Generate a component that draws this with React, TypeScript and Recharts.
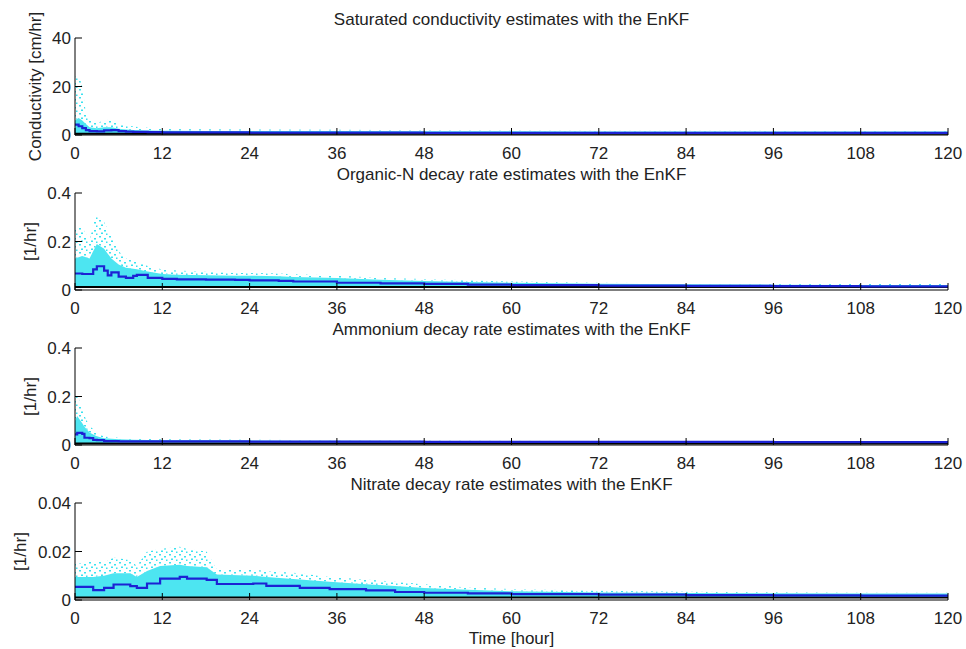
import { ComposedChart, Area, Line, XAxis, YAxis, ReferenceLine } from 'recharts'

const hourTicks = [0, 12, 24, 36, 48, 60, 72, 84, 96, 108, 120]

// saturated conductivity [cm/hr]
const condHours = [0, 0.5, 1, 1.5, 2, 3, 4, 5, 6, 7, 8, 10, 12, 18, 24, 36, 48, 60, 72, 84, 96, 108, 120]
const condMean = [4.3, 3.6, 2.8, 2.0, 1.6, 1.5, 1.9, 2.0, 1.6, 1.4, 1.3, 1.2, 1.1, 1.1, 1.0, 1.0, 0.9, 0.9, 0.9, 0.9, 0.9, 0.9, 0.9]
const condLow = [0.3, 0.3, 0.3, 0.3, 0.3, 0.3, 0.3, 0.3, 0.3, 0.3, 0.3, 0.3, 0.3, 0.3, 0.3, 0.3, 0.3, 0.3, 0.3, 0.3, 0.3, 0.3, 0.3]
const condDense = [6, 7, 6, 4.5, 3.2, 2.8, 3.2, 3.2, 2.6, 2.3, 2.1, 1.9, 1.8, 1.7, 1.6, 1.6, 1.5, 1.5, 1.4, 1.4, 1.4, 1.4, 1.4]
const condTop = [24, 25, 20, 9, 6, 5, 6, 6.5, 4.5, 4, 3.5, 3, 2.5, 2.4, 2.3, 2.2, 2, 1.9, 1.8, 1.8, 1.7, 1.7, 1.7]
const condTrue = 0.5

// organic-N decay rate [1/hr]
const orgHours = [0, 1, 2, 2.5, 3, 4, 4.5, 5, 6, 7, 8, 8.5, 10, 12, 14, 18, 22, 24, 28, 30, 36, 42, 48, 54, 60, 72, 84, 96, 108, 120]
const orgMean = [0.068, 0.066, 0.066, 0.085, 0.098, 0.08, 0.06, 0.073, 0.055, 0.05, 0.058, 0.062, 0.05, 0.046, 0.044, 0.043, 0.042, 0.04, 0.038, 0.035, 0.03, 0.027, 0.025, 0.022, 0.02, 0.018, 0.017, 0.016, 0.015, 0.015]
const orgLow = [0.008, 0.008, 0.008, 0.008, 0.008, 0.008, 0.008, 0.008, 0.008, 0.008, 0.008, 0.008, 0.01, 0.015, 0.015, 0.015, 0.015, 0.015, 0.015, 0.015, 0.015, 0.012, 0.012, 0.012, 0.012, 0.012, 0.012, 0.012, 0.012, 0.012]
const orgDense = [0.13, 0.14, 0.13, 0.16, 0.19, 0.17, 0.15, 0.13, 0.105, 0.092, 0.088, 0.086, 0.076, 0.066, 0.063, 0.061, 0.059, 0.059, 0.057, 0.054, 0.049, 0.042, 0.037, 0.033, 0.03, 0.026, 0.024, 0.022, 0.021, 0.021]
const orgTop = [0.25, 0.26, 0.2, 0.27, 0.31, 0.28, 0.25, 0.22, 0.16, 0.13, 0.12, 0.12, 0.1, 0.085, 0.08, 0.075, 0.07, 0.07, 0.068, 0.065, 0.06, 0.05, 0.045, 0.04, 0.035, 0.03, 0.028, 0.026, 0.025, 0.025]
const orgTrue = 0.012

// ammonium decay rate [1/hr]
const ammHours = [0, 0.3, 1, 1.3, 2, 2.5, 3, 4, 6, 8, 10, 12, 18, 24, 30, 36, 48, 60, 72, 84, 96, 108, 120]
const ammMean = [0.044, 0.05, 0.046, 0.03, 0.028, 0.021, 0.02, 0.016, 0.015, 0.015, 0.015, 0.015, 0.015, 0.014, 0.014, 0.014, 0.013, 0.013, 0.013, 0.013, 0.012, 0.012, 0.012]
const ammLow = [0.005, 0.005, 0.005, 0.005, 0.005, 0.005, 0.006, 0.007, 0.009, 0.009, 0.009, 0.009, 0.009, 0.009, 0.009, 0.009, 0.009, 0.009, 0.009, 0.009, 0.009, 0.009, 0.009]
const ammDense = [0.1, 0.12, 0.09, 0.075, 0.052, 0.043, 0.036, 0.028, 0.024, 0.022, 0.021, 0.02, 0.02, 0.019, 0.018, 0.018, 0.017, 0.016, 0.015, 0.015, 0.015, 0.015, 0.015]
const ammTop = [0.2, 0.21, 0.15, 0.12, 0.08, 0.065, 0.05, 0.035, 0.03, 0.027, 0.025, 0.024, 0.023, 0.022, 0.021, 0.02, 0.019, 0.018, 0.017, 0.016, 0.016, 0.016, 0.016]
const ammTrue = 0.006

// nitrate decay rate [1/hr]
const nitHours = [0, 2.5, 4, 5.3, 7.6, 8.5, 9.9, 11.7, 14.4, 15.4, 18.1, 19.5, 24.5, 26.3, 30.9, 35, 40, 44, 48, 54, 60, 72, 84, 96, 108, 120]
const nitMean = [0.0054, 0.0041, 0.005, 0.0064, 0.0057, 0.005, 0.0068, 0.0088, 0.0095, 0.0088, 0.0083, 0.0066, 0.0068, 0.0058, 0.005, 0.0045, 0.004, 0.0033, 0.003, 0.0027, 0.0024, 0.0022, 0.002, 0.0019, 0.0018, 0.0018]
const nitLow = [0.0012, 0.0012, 0.0012, 0.0012, 0.0012, 0.0012, 0.0012, 0.0012, 0.0012, 0.0012, 0.0012, 0.0012, 0.0012, 0.0012, 0.0012, 0.0012, 0.0012, 0.0012, 0.0012, 0.0012, 0.0012, 0.0012, 0.0012, 0.0012, 0.0012, 0.0012]
const nitDense = [0.0095, 0.0095, 0.01, 0.011, 0.011, 0.0095, 0.012, 0.014, 0.0145, 0.014, 0.0135, 0.0105, 0.01, 0.0095, 0.0085, 0.0075, 0.0065, 0.0058, 0.005, 0.0042, 0.0036, 0.0031, 0.0029, 0.0028, 0.0027, 0.0027]
const nitTop = [0.015, 0.016, 0.0155, 0.0175, 0.0165, 0.014, 0.02, 0.021, 0.022, 0.021, 0.02, 0.0125, 0.0125, 0.012, 0.011, 0.0095, 0.0085, 0.0075, 0.0065, 0.0052, 0.0045, 0.0038, 0.0034, 0.0032, 0.003, 0.003]
const nitTrue = 0.001

const font = '"Liberation Sans", Arial, sans-serif'
const textColor = '#222'
const cyan = '#3ae2f0'
const blue = '#1c22d4'

function buildRows(hours: number[], mean: number[], lo: number[], hi: number[], top: number[]) {
  return hours.map((t, i) => ({ t, mean: mean[i], lo: lo[i], hi: hi[i], top: top[i] }))
}

interface PanelProps {
  id: string
  title: string
  yLabel: string
  yLabelX: number
  yTicks: number[]
  rows: ReturnType<typeof buildRows>
  truth: number
  height: number
  bottomPad: number
  xLabel?: string
}

function Panel({ id, title, yLabel, yLabelX, yTicks, rows, truth, height, bottomPad, xLabel }: PanelProps) {
  const yMax = yTicks[yTicks.length - 1]
  const tickStyle = { fontSize: 17, fill: textColor, fontFamily: font }
  return (
    <div style={{ position: 'relative', width: 958, height }}>
      <div
        style={{
          position: 'absolute', left: 67, top: 3, width: 873, textAlign: 'center',
          fontFamily: font, fontSize: 17, lineHeight: '18px', color: textColor,
        }}
      >
        {title}
      </div>
      <ComposedChart width={958} height={height} data={rows} margin={{ top: 30, right: 18, bottom: bottomPad, left: 0 }}>
        <defs>
          <pattern id={`dots-${id}`} width="10" height="8" patternUnits="userSpaceOnUse">
            <rect x="1" y="1" width="2" height="1.5" fill={cyan} />
            <rect x="6" y="3" width="2" height="1.5" fill={cyan} />
            <rect x="3" y="5.5" width="2" height="1.5" fill={cyan} />
            <rect x="8" y="6.5" width="1.5" height="1.5" fill={cyan} />
          </pattern>
        </defs>
        <XAxis
          xAxisId="b" dataKey="t" type="number" domain={[0, 120]} ticks={hourTicks} interval={0}
          allowDataOverflow height={28} stroke="#000" tickSize={-7} tickMargin={19} tick={tickStyle}
        />
        <XAxis
          xAxisId="t" dataKey="t" type="number" orientation="top" domain={[0, 120]} ticks={hourTicks}
          interval={0} allowDataOverflow height={0} stroke="#000" tickSize={-7} tickFormatter={() => ''}
        />
        <YAxis
          yAxisId="l" type="number" domain={[0, yMax]} ticks={yTicks} interval={0} allowDataOverflow
          width={67} stroke="#000" tickSize={-7} tickMargin={11} tick={tickStyle}
          label={{
            value: yLabel, angle: -90, position: 'insideLeft', offset: yLabelX,
            style: { textAnchor: 'middle', fontSize: 17, fill: textColor, fontFamily: font },
          }}
        />
        <YAxis
          yAxisId="r" type="number" orientation="right" domain={[0, yMax]} ticks={yTicks} interval={0}
          allowDataOverflow width={0} stroke="#000" tickSize={-7} tickFormatter={() => ''}
        />
        <Area
          xAxisId="b" yAxisId="l" dataKey={(d: any) => [d.hi, d.top]} type="linear" stroke="none"
          fill={`url(#dots-${id})`} fillOpacity={1} isAnimationActive={false}
        />
        <Area
          xAxisId="b" yAxisId="l" dataKey={(d: any) => [d.lo, d.hi]} type="linear" stroke="none"
          fill={cyan} fillOpacity={0.9} isAnimationActive={false}
        />
        <ReferenceLine xAxisId="b" yAxisId="l" y={truth} stroke="#000" strokeWidth={2} />
        <Line
          xAxisId="b" yAxisId="l" dataKey="mean" type="stepAfter" stroke={blue} strokeWidth={2.2}
          dot={false} isAnimationActive={false}
        />
      </ComposedChart>
      {xLabel && (
        <div
          style={{
            position: 'absolute', left: 67, top: 157, width: 873, textAlign: 'center',
            fontFamily: font, fontSize: 17, lineHeight: '17px', color: textColor,
          }}
        >
          {xLabel}
        </div>
      )}
    </div>
  )
}

export default function App() {
  return (
    <div style={{ position: 'absolute', left: 0, top: 0, width: 966, height: 649, overflow: 'hidden', background: '#fff' }}>
      <div style={{ position: 'absolute', left: 8, top: 8, width: 958 }}>
        <Panel
          id="cond" title="Saturated conductivity estimates with the EnKF" yLabel="Conductivity [cm/hr]" yLabelX={27}
          yTicks={[0, 20, 40]} rows={buildRows(condHours, condMean, condLow, condDense, condTop)} truth={condTrue}
          height={155} bottomPad={0}
        />
        <Panel
          id="org" title="Organic-N decay rate estimates with the EnKF" yLabel="[1/hr]" yLabelX={22}
          yTicks={[0, 0.2, 0.4]} rows={buildRows(orgHours, orgMean, orgLow, orgDense, orgTop)} truth={orgTrue}
          height={155} bottomPad={0}
        />
        <Panel
          id="amm" title="Ammonium decay rate estimates with the EnKF" yLabel="[1/hr]" yLabelX={22}
          yTicks={[0, 0.2, 0.4]} rows={buildRows(ammHours, ammMean, ammLow, ammDense, ammTop)} truth={ammTrue}
          height={155} bottomPad={0}
        />
        <Panel
          id="nit" title="Nitrate decay rate estimates with the EnKF" yLabel="[1/hr]" yLabelX={12}
          yTicks={[0, 0.02, 0.04]} rows={buildRows(nitHours, nitMean, nitLow, nitDense, nitTop)} truth={nitTrue}
          height={162} bottomPad={7} xLabel="Time [hour]"
        />
      </div>
    </div>
  )
}
